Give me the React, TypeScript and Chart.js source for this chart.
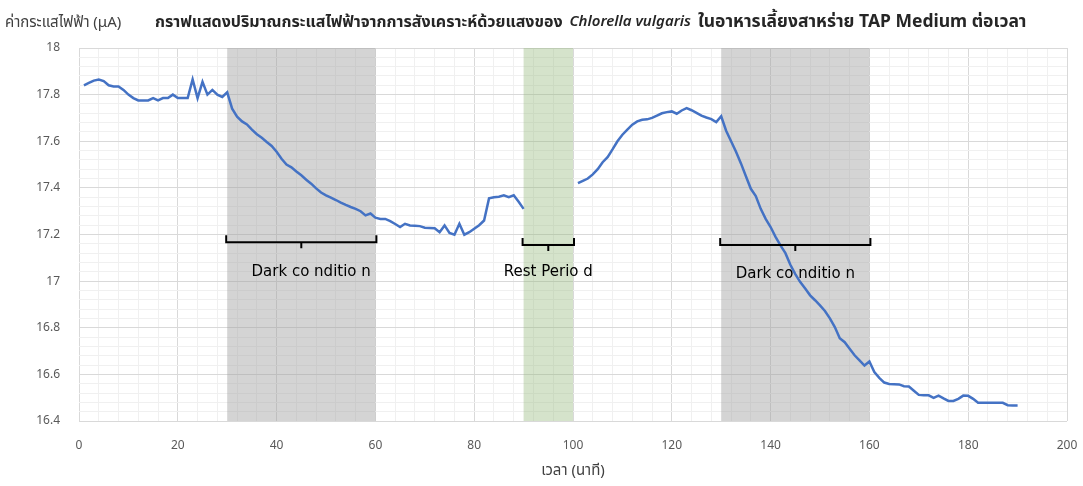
import React, { useEffect, useRef } from "react";
import { Chart, registerables } from "chart.js";

Chart.register(...registerables);

const minutes: number[] = [
  1, 2, 3, 4, 5, 6, 7, 8, 9, 10, 11, 12, 13, 14, 15, 16, 17, 18, 19, 20,
  21, 22, 23, 24, 25, 26, 27, 28, 29, 30, 31, 32, 33, 34, 35, 36, 37, 38, 39, 40,
  41, 42, 43, 44, 45, 46, 47, 48, 49, 50, 51, 52, 53, 54, 55, 56, 57, 58, 59, 60,
  61, 62, 63, 64, 65, 66, 67, 68, 69, 70, 71, 72, 73, 74, 75, 76, 77, 78, 79, 80,
  81, 82, 83, 84, 85, 86, 87, 88, 89, 90, 95,
  101, 102, 103, 104, 105, 106, 107, 108, 109, 110, 111, 112, 113, 114, 115, 116, 117, 118, 119, 120,
  121, 122, 123, 124, 125, 126, 127, 128, 129, 130, 131, 132, 133, 134, 135, 136, 137, 138, 139, 140,
  141, 142, 143, 144, 145, 146, 147, 148, 149, 150, 151, 152, 153, 154, 155, 156, 157, 158, 159, 160,
  161, 162, 163, 164, 165, 166, 167, 168, 169, 170, 171, 172, 173, 174, 175, 176, 177, 178, 179, 180,
  181, 182, 183, 184, 185, 186, 187, 188, 189, 190,
];

const currents: (number | null)[] = [
  17.84, 17.85, 17.86, 17.865, 17.858, 17.84, 17.835, 17.835, 17.82, 17.8,
  17.785, 17.775, 17.775, 17.775, 17.785, 17.775, 17.785, 17.785, 17.8, 17.785,
  17.785, 17.785, 17.865, 17.785, 17.855, 17.8, 17.82, 17.8, 17.79, 17.81,
  17.74, 17.705, 17.685, 17.672, 17.65, 17.63, 17.615, 17.597, 17.58, 17.555,
  17.525, 17.5, 17.488, 17.47, 17.454, 17.435, 17.418, 17.398, 17.38, 17.368,
  17.358, 17.348, 17.337, 17.327, 17.318, 17.31, 17.3, 17.282, 17.29, 17.272,
  17.267, 17.267, 17.257, 17.245, 17.232, 17.246, 17.239, 17.238, 17.236, 17.229,
  17.228, 17.227, 17.21, 17.239, 17.207, 17.199, 17.246, 17.199, 17.21, 17.225,
  17.24, 17.26, 17.355, 17.36, 17.362, 17.368, 17.36, 17.368, 17.34, 17.31, null,
  17.42, 17.43, 17.44, 17.458, 17.48, 17.51, 17.532, 17.565, 17.6, 17.628,
  17.65, 17.671, 17.685, 17.692, 17.694, 17.7, 17.71, 17.72, 17.725, 17.728,
  17.718, 17.732, 17.742, 17.733, 17.722, 17.71, 17.702, 17.695, 17.682, 17.707,
  17.645, 17.6, 17.555, 17.505, 17.45, 17.396, 17.365, 17.31, 17.267, 17.232,
  17.19, 17.153, 17.12, 17.07, 17.03, 16.996, 16.968, 16.939, 16.918, 16.896,
  16.872, 16.84, 16.803, 16.755, 16.738, 16.71, 16.682, 16.66, 16.638, 16.655,
  16.61, 16.585, 16.565, 16.559, 16.558, 16.557, 16.549, 16.548, 16.53, 16.512,
  16.51, 16.51, 16.499, 16.509, 16.497, 16.486, 16.486, 16.495, 16.509, 16.508,
  16.495, 16.478, 16.478, 16.478, 16.478, 16.478, 16.478, 16.468, 16.467, 16.467,
];

// shaded periods
const periodStarts: number[] = [30, 90, 130];
const periodEnds: number[] = [60, 100, 160];
const periodKinds: string[] = ["dark", "rest", "dark"];
const periodLabels: string[] = ["Dark co nditio n", "Rest Perio d", "Dark co nditio n"];
const bracketLevels: number[] = [17.197, 17.185, 17.185];
const labelMinutes: number[] = [47, 95, 145];
const labelLevels: number[] = [17.04, 17.04, 17.03];

const xTickValues: number[] = Array.from({ length: 51 }, (_, i) => i * 4);
const yTickValues: number[] = Array.from({ length: 41 }, (_, i) => Math.round((16.4 + i * 0.04) * 100) / 100);

const yAxisLabel = "ค่ากระแสไฟฟ้า (μA)";
const xAxisLabel = "เวลา (นาที)";
const titleParts: { text: string; style: string }[] = [
  { text: "กราฟแสดงปริมาณกระแสไฟฟ้าจากการสังเคราะห์ด้วยแสงของ", style: "bold 16px" },
  { text: "Chlorella vulgaris", style: "italic 600 15px" },
  { text: "ในอาหารเลี้ยงสาหร่าย TAP Medium ต่อเวลา", style: "bold 17.5px" },
];

const FONT = "'Noto Sans', 'Noto Sans Thai', 'DejaVu Sans', sans-serif";
const NOTE_FONT = "'DejaVu Sans', 'Noto Sans', sans-serif";

const bandsPlugin = {
  id: "bands",
  beforeDatasetsDraw(chart: any) {
    const { ctx, chartArea, scales } = chart;
    ctx.save();
    for (let i = 0; i < periodStarts.length; i++) {
      const x1 = scales.x.getPixelForValue(periodStarts[i]);
      const x2 = scales.x.getPixelForValue(periodEnds[i]);
      ctx.fillStyle = periodKinds[i] === "dark" ? "rgba(160,160,160,0.45)" : "rgba(150,185,125,0.4)";
      ctx.fillRect(x1, chartArea.top, x2 - x1, chartArea.bottom - chartArea.top);
    }
    ctx.restore();
  },
  afterDatasetsDraw(chart: any) {
    const { ctx, scales } = chart;
    ctx.save();
    ctx.strokeStyle = "#000";
    ctx.lineWidth = 2;
    for (let i = 0; i < periodStarts.length; i++) {
      const x1 = scales.x.getPixelForValue(periodStarts[i]) - 1;
      const x2 = scales.x.getPixelForValue(periodEnds[i]) + 1;
      const yTop = scales.y.getPixelForValue(bracketLevels[i]);
      const yLine = yTop + 7;
      const xc = (x1 + x2) / 2;
      ctx.beginPath();
      ctx.moveTo(x1, yTop);
      ctx.lineTo(x1, yLine);
      ctx.lineTo(x2, yLine);
      ctx.lineTo(x2, yTop);
      ctx.moveTo(xc, yLine);
      ctx.lineTo(xc, yLine + 6);
      ctx.stroke();
      ctx.fillStyle = "#000";
      ctx.font = `15px ${NOTE_FONT}`;
      ctx.textAlign = "center";
      ctx.textBaseline = "middle";
      ctx.fillText(
        periodLabels[i],
        scales.x.getPixelForValue(labelMinutes[i]),
        scales.y.getPixelForValue(labelLevels[i])
      );
    }
    ctx.restore();
  },
  afterDraw(chart: any) {
    const { ctx } = chart;
    ctx.save();
    ctx.textBaseline = "middle";
    ctx.textAlign = "left";
    ctx.fillStyle = "#404040";
    ctx.font = `15px ${FONT}`;
    ctx.fillText(yAxisLabel, 5, 23);
    ctx.fillStyle = "#262626";
    let x = 155;
    for (const p of titleParts) {
      ctx.font = `${p.style} ${FONT}`;
      ctx.fillText(p.text, x, 22);
      x += ctx.measureText(p.text).width + 7;
    }
    ctx.restore();
  },
};

export default function App() {
  const ref = useRef<HTMLCanvasElement | null>(null);
  useEffect(() => {
    if (!ref.current) return;
    const chart = new Chart(ref.current, {
      type: "line",
      data: {
        datasets: [
          {
            data: minutes.map((m, i) => ({ x: m, y: currents[i] })),
            borderColor: "#4472c4",
            borderWidth: 2.5,
            pointRadius: 0,
            tension: 0,
            spanGaps: false,
          },
        ],
      },
      options: {
        animation: false,
        responsive: true,
        maintainAspectRatio: false,
        layout: { padding: { top: 48, right: 0, left: 0, bottom: 0 } },
        plugins: { legend: { display: false }, tooltip: { enabled: false }, title: { display: false } },
        scales: {
          x: {
            type: "linear",
            min: 0,
            max: 200,
            afterBuildTicks: (s: any) => {
              s.ticks = xTickValues.map((v) => ({ value: v }));
            },
            afterFit: (s: any) => {
              s.height = 65;
              s.paddingRight = 16;
              s.paddingLeft = 0;
            },
            ticks: {
              autoSkip: false,
              maxRotation: 0,
              padding: 17,
              color: "#595959",
              font: { size: 12, family: FONT },
              callback: (v: any) => (Number(v) % 20 === 0 ? String(v) : ""),
            },
            grid: {
              drawTicks: false,
              color: (c: any) => (c.tick && Number(c.tick.value) % 20 === 0 ? "#d9d9d9" : "#f0f0f0"),
              lineWidth: 1,
            },
            border: { display: false },
            title: {
              display: true,
              text: xAxisLabel,
              color: "#404040",
              font: { size: 15, family: FONT },
              padding: { top: 0, bottom: 6 },
            },
          },
          y: {
            type: "linear",
            min: 16.4,
            max: 18,
            afterBuildTicks: (s: any) => {
              s.ticks = yTickValues.map((v) => ({ value: v }));
            },
            afterFit: (s: any) => {
              s.width = 79;
            },
            ticks: {
              autoSkip: false,
              padding: 19,
              color: "#595959",
              font: { size: 12, family: FONT },
              callback: (v: any) => {
                const n = Math.round(Number(v) * 100);
                return n % 20 === 0 ? String(Number((n / 100).toFixed(1))) : "";
              },
            },
            grid: {
              drawTicks: false,
              color: (c: any) => {
                const n = c.tick ? Math.round(Number(c.tick.value) * 100) : 1;
                return n % 20 === 0 ? "#d9d9d9" : "#f0f0f0";
              },
              lineWidth: 1,
            },
            border: { display: false },
          },
        },
      },
      plugins: [bandsPlugin],
    });
    return () => chart.destroy();
  }, []);
  return (
    <div style={{ position: "fixed", left: 0, top: 0, width: 1083, height: 486, background: "#fff" }}>
      <canvas ref={ref} />
    </div>
  );
}
